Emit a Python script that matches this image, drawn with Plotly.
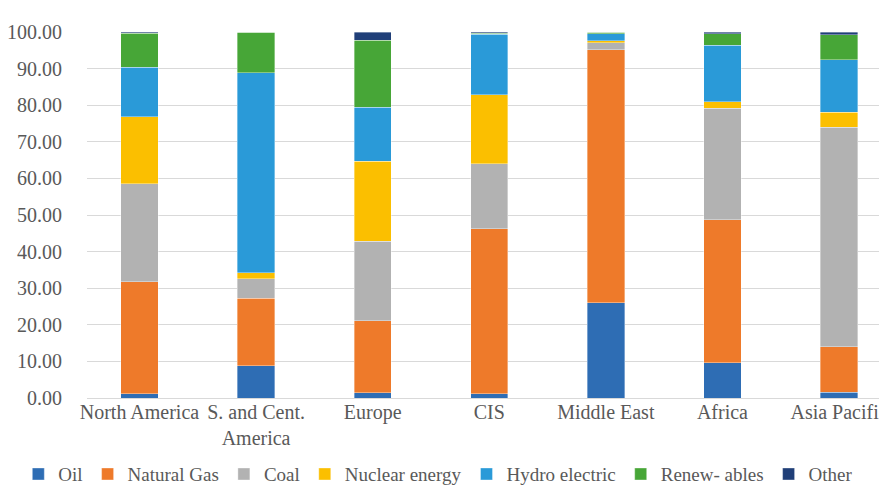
import plotly.graph_objects as go

# ============================
# DATA (share of primary energy, %)
# ============================
regions = ["North America", "S. and Cent.<br>America", "Europe", "CIS",
           "Middle East", "Africa", "Asia Pacific"]

oil = [1.1, 8.8, 1.4, 1.2, 26.0, 9.6, 1.6]
natural_gas = [30.6, 18.5, 19.7, 45.1, 69.2, 39.1, 12.4]
coal = [26.9, 5.3, 21.7, 17.7, 1.9, 30.4, 60.0]
nuclear = [18.2, 1.6, 21.9, 18.9, 0.5, 1.8, 4.1]
hydro = [13.6, 54.7, 14.7, 16.5, 1.9, 15.5, 14.3]
renewables = [9.3, 11.1, 18.4, 0.2, 0.4, 3.1, 6.9]
other = [0.3, 0.0, 2.2, 0.4, 0.1, 0.5, 0.7]

series = [
    ("Oil", oil, "#2E6DB4"),
    ("Natural Gas", natural_gas, "#EE7A2A"),
    ("Coal", coal, "#B2B2B2"),
    ("Nuclear energy", nuclear, "#FBBF00"),
    ("Hydro electric", hydro, "#2A9AD8"),
    ("Renew- ables", renewables, "#47A637"),
    ("Other", other, "#203F78"),
]

SERIF = "Liberation Serif"
GREY = "#595959"

fig = go.Figure()

for name, vals, color in series:
    fig.add_trace(go.Bar(
        x=regions,
        y=vals,
        name=name,
        width=0.32,
        marker=dict(color=color, line=dict(color="rgba(255,255,255,0.6)", width=0.6))
    ))

fig.update_layout(
    barmode="stack",
    width=887,
    height=485,
    margin=dict(l=79, r=0, t=24, b=95, autoexpand=False),
    paper_bgcolor="white",
    plot_bgcolor="white",
    font=dict(family=SERIF, size=20, color=GREY),
    # legend sits left of the plot area so it may use the full page width (one row)
    legend=dict(orientation="h", x=-0.085, xanchor="left", y=-0.208, yanchor="middle",
                font=dict(family=SERIF, size=19, color=GREY), itemwidth=30,
                tracegroupgap=0, traceorder="normal"),
)

fig.update_xaxes(
    range=[-0.45, 6.48],
    showgrid=False,
    showline=False,
    ticks="",
    tickfont=dict(family=SERIF, size=20, color=GREY),
)

fig.update_yaxes(
    range=[0, 100],
    dtick=10,
    tickformat=".2f",
    showgrid=True,
    gridcolor="#D9D9D9",
    gridwidth=1,
    zeroline=True,
    zerolinecolor="#D9D9D9",
    zerolinewidth=1,
    ticks="",
    ticklabelstandoff=24,
    tickfont=dict(family=SERIF, size=20, color=GREY),
)

fig.write_html("out.html")
